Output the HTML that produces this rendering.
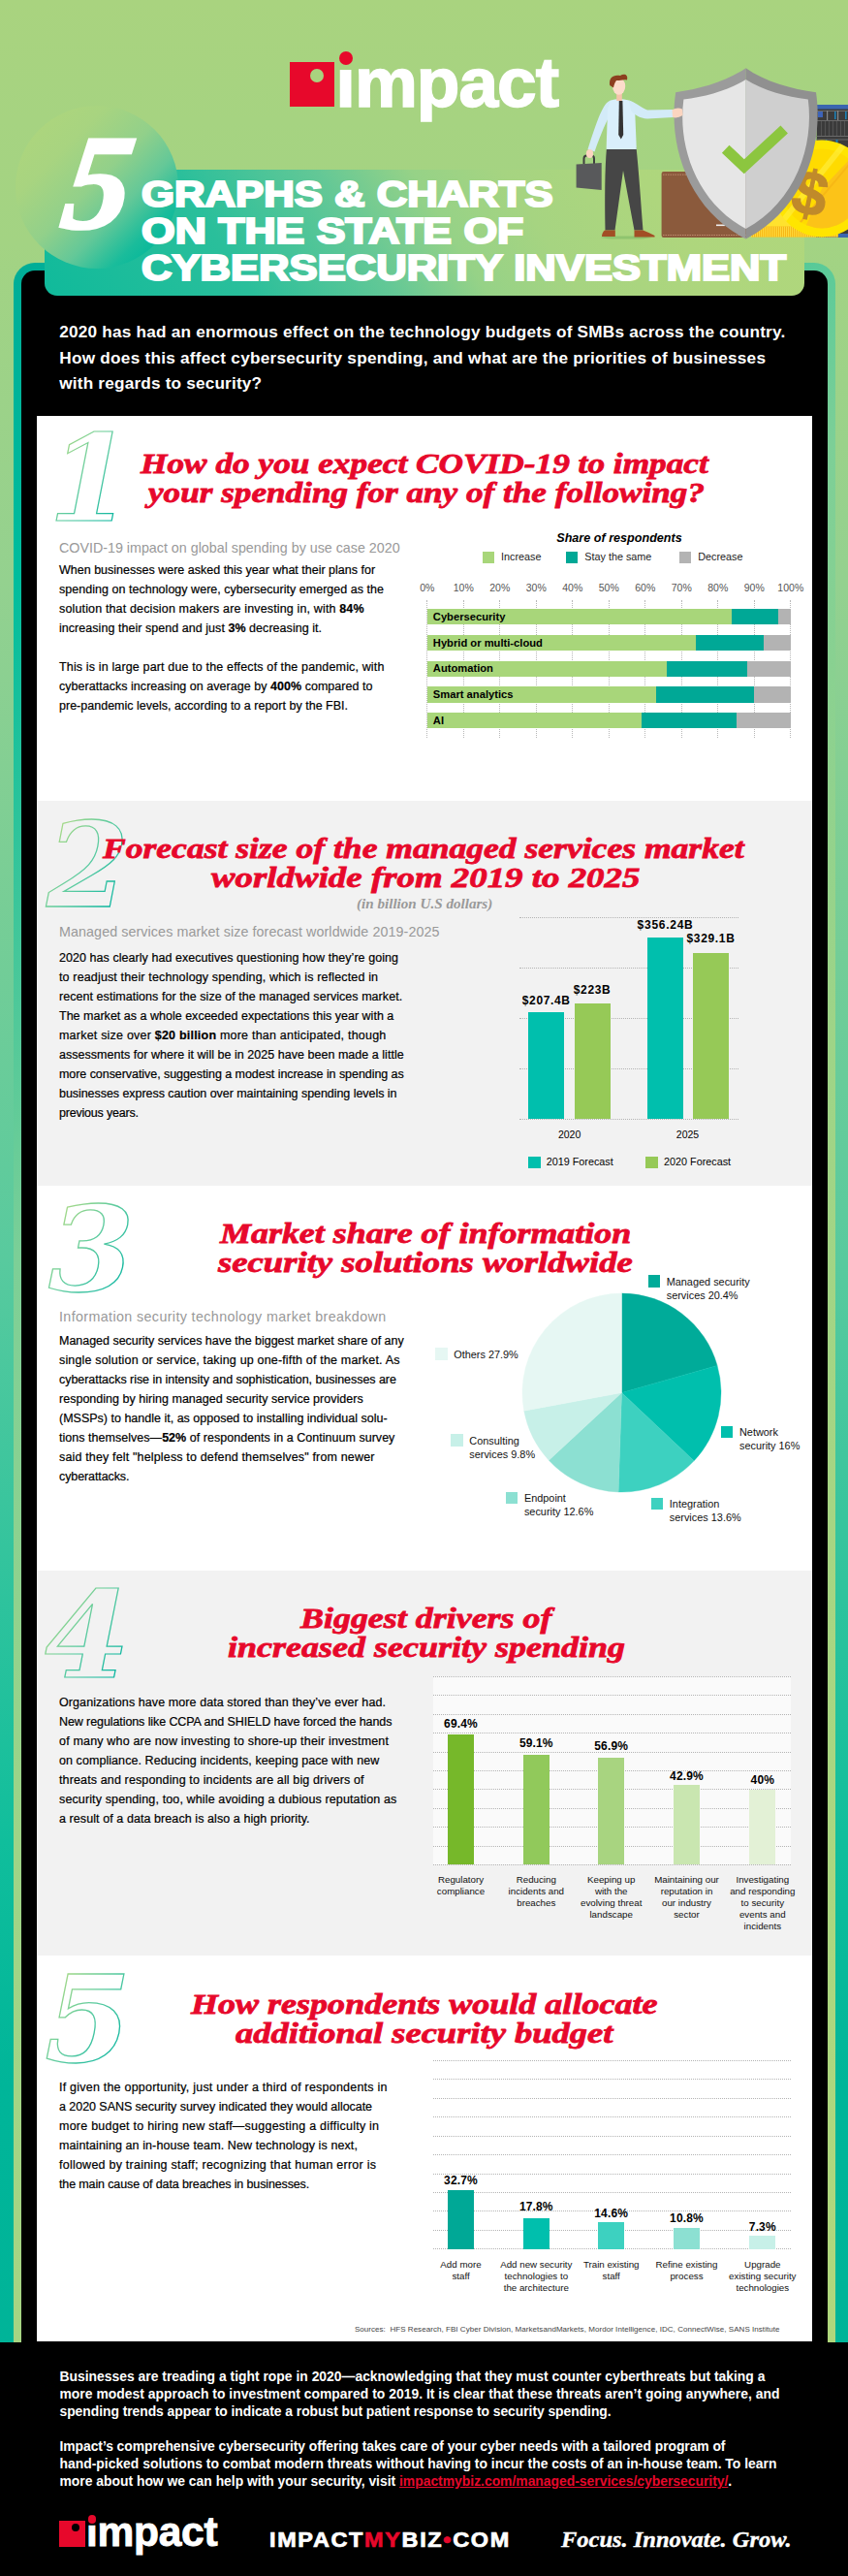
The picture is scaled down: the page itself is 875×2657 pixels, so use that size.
<!DOCTYPE html>
<html lang="en"><head><meta charset="utf-8"><title>5 Graphs &amp; Charts on the State of Cybersecurity Investment</title>
<style>
html,body{margin:0;padding:0}
body{width:875px;height:2657px;position:relative;overflow:hidden;font-family:"Liberation Sans",sans-serif;
background:linear-gradient(180deg,#a9d37f 0,#a3d383 250px,#94d18f 600px,#58ca9e 1300px,#10be9c 1900px,#00b599 2150px,#00b398 2657px);}
b{font-weight:bold}
</style></head><body>
<div style="position:absolute;left:14px;top:271px;width:848px;height:2145px;border-radius:22px 22px 0 0;background:linear-gradient(135deg,#00ad97 0%,#00bd9d 11%,#7ccf97 34.4%,#9ed487 54.5%,#a6d583 71.7%,#b0d77c 100%);"></div>
<div style="position:absolute;left:22px;top:279px;width:832px;height:2378px;border-radius:14px 14px 0 0;background:#000;"></div>
<div style="position:absolute;left:0px;top:2416px;width:875px;height:241px;background:#000;"></div>
<div style="position:absolute;left:38px;top:428.5px;width:800px;height:397.5px;background:#fff;"></div>
<div style="position:absolute;left:38px;top:826px;width:800px;height:397px;background:#f2f2f2;"></div>
<div style="position:absolute;left:38px;top:1223px;width:800px;height:397px;background:#fff;"></div>
<div style="position:absolute;left:38px;top:1620px;width:800px;height:397px;background:#f2f2f2;"></div>
<div style="position:absolute;left:38px;top:2017px;width:800px;height:397.5999999999999px;background:#fff;"></div>
<div style="position:absolute;left:46px;top:175px;width:784px;height:129.5px;border-radius:0 0 13px 13px;background:linear-gradient(58deg,#10ba9b 0%,#2abf9b 25%,#64c896 42%,#96d287 53%,#a6d481 64%,#aed67d 80%,#b0d77c 100%);"></div>
<div style="position:absolute;left:16px;top:109px;width:168px;height:168px;border-radius:50%;background:linear-gradient(135deg,#b0d67b 0%,#a8d480 28%,#92d08a 48%,#64c898 64%,#1abc9b 79%,#00b79a 90%,#00b398 100%);"></div>
<div style="position:absolute;left:298.7px;top:63.7px;width:46.3px;height:46.4px;background:#e7082b;"></div>
<div style="position:absolute;left:320.4px;top:70.6px;width:14px;height:14px;border-radius:50%;background:#a9d37f"></div>
<div style="position:absolute;left:349.9px;top:52.6px;width:14.2px;height:14.2px;border-radius:50%;background:#e7082b"></div>
<div style="position:absolute;top:40.51px;font-family:'Liberation Sans',sans-serif;font-size:73px;line-height:87.6px;color:#fff;white-space:nowrap;font-weight:bold;letter-spacing:-0.985px;left:346.6px;-webkit-text-stroke:1.6px #fff;"><span style="display:inline-block;clip-path:inset(36% -2px 0 -2px)">i</span>mpact</div>
<div style="position:absolute;top:104.99px;font-family:'Liberation Serif',serif;font-size:139px;line-height:166.8px;color:#fff;white-space:nowrap;font-weight:bold;font-style:italic;left:60.5px;-webkit-text-stroke:3px #fff;transform:skewX(-8deg) scaleX(1.0);transform-origin:0 126px;">5</div>
<div style="position:absolute;top:179.04px;font-family:'Liberation Sans',sans-serif;font-size:36.3px;line-height:43.56px;color:#fff;white-space:nowrap;font-weight:bold;left:145.8px;transform:scaleX(1.2034);transform-origin:left top;-webkit-text-stroke:2.1px #fff;">GRAPHS &amp; CHARTS</div>
<div style="position:absolute;top:217.24px;font-family:'Liberation Sans',sans-serif;font-size:36.3px;line-height:43.56px;color:#fff;white-space:nowrap;font-weight:bold;left:145.8px;transform:scaleX(1.2272);transform-origin:left top;-webkit-text-stroke:2.1px #fff;">ON THE STATE OF</div>
<div style="position:absolute;top:255.34px;font-family:'Liberation Sans',sans-serif;font-size:36.3px;line-height:43.56px;color:#fff;white-space:nowrap;font-weight:bold;left:145.8px;transform:scaleX(1.2007);transform-origin:left top;-webkit-text-stroke:2.1px #fff;">CYBERSECURITY INVESTMENT</div>
<div style="position:absolute;top:329.49px;font-family:'Liberation Sans',sans-serif;font-size:17.2px;line-height:26.3px;color:#fff;white-space:nowrap;font-weight:bold;left:61.3px;"><span style="letter-spacing:0.211px">2020 has had an enormous effect on the technology budgets of SMBs across the country.</span><br><span style="letter-spacing:0.246px">How does this affect cybersecurity spending, and what are the priorities of businesses</span><br><span style="letter-spacing:0.184px">with regards to security?</span></div>
<svg style="position:absolute;left:29.6px;top:427.29999999999995px;overflow:visible" width="140" height="130" viewBox="0 0 140 130"><defs><linearGradient id="ng1" gradientUnits="userSpaceOnUse" x1="15" y1="40" x2="105" y2="95"><stop offset="0" stop-color="#b5dc82"/><stop offset="0.5" stop-color="#5ccba0"/><stop offset="1" stop-color="#00b3a0"/></linearGradient></defs><text x="20" y="110" transform="translate(20 110) skewX(0) scale(1.0032 1) translate(-20 -110)" font-family="'DejaVu Serif',serif" font-style="italic" font-weight="bold" font-size="124.04" fill="none" stroke="url(#ng1)" stroke-width="1.25">1</text></svg>
<div style="position:absolute;top:460.48px;font-family:'Liberation Serif',serif;font-size:30px;line-height:36.0px;color:#e7082b;white-space:nowrap;font-weight:bold;font-style:italic;left:145.2px;transform:scaleX(1.1756);transform-origin:left top;-webkit-text-stroke:0.8px #e7082b;">How do you expect COVID-19 to impact</div>
<div style="position:absolute;top:490.17px;font-family:'Liberation Serif',serif;font-size:30px;line-height:36.0px;color:#e7082b;white-space:nowrap;font-weight:bold;font-style:italic;left:152.98px;transform:scaleX(1.1713);transform-origin:left top;-webkit-text-stroke:0.8px #e7082b;">your spending for any of the following?</div>
<div style="position:absolute;top:556.77px;font-family:'Liberation Sans',sans-serif;font-size:14.3px;line-height:17.16px;color:#999;white-space:nowrap;letter-spacing:-0.009px;left:61px;">COVID-19 impact on global spending by use case 2020</div>
<div style="position:absolute;top:578.37px;font-family:'Liberation Sans',sans-serif;font-size:12.5px;line-height:20.0px;color:#000;white-space:nowrap;left:61px;-webkit-text-stroke:0.2px #000;"><span style="letter-spacing:0.004px">When businesses were asked this year what their plans for</span><br><span style="letter-spacing:0.026px">spending on technology were, cybersecurity emerged as the</span><br><span style="letter-spacing:0.148px">solution that decision makers are investing in, with <b>84%</b></span><br><span style="letter-spacing:0.044px">increasing their spend and just <b>3%</b> decreasing it.</span><br><br><span style="letter-spacing:0.148px">This is in large part due to the effects of the pandemic, with</span><br><span style="letter-spacing:0.032px">cyberattacks increasing on average by <b>400%</b> compared to</span><br><span style="letter-spacing:0.013px">pre-pandemic levels, according to a report by the FBI.</span></div>
<div style="position:absolute;top:547.87px;font-family:'Liberation Sans',sans-serif;font-size:12.6px;line-height:15.12px;color:#000;white-space:nowrap;font-weight:bold;font-style:italic;left:489.0px;width:300px;text-align:center;">Share of respondents</div>
<div style="position:absolute;left:498.3px;top:568.7px;width:12px;height:12px;background:#a8d67a;"></div>
<div style="position:absolute;top:568.08px;font-family:'Liberation Sans',sans-serif;font-size:10.8px;line-height:12.96px;color:#222;white-space:nowrap;left:517.1px;">Increase</div>
<div style="position:absolute;left:583.5px;top:568.7px;width:12px;height:12px;background:#00a896;"></div>
<div style="position:absolute;top:568.08px;font-family:'Liberation Sans',sans-serif;font-size:10.8px;line-height:12.96px;color:#222;white-space:nowrap;left:603.3px;">Stay the same</div>
<div style="position:absolute;left:701.4px;top:568.7px;width:12px;height:12px;background:#b3b3b3;"></div>
<div style="position:absolute;top:568.08px;font-family:'Liberation Sans',sans-serif;font-size:10.8px;line-height:12.96px;color:#222;white-space:nowrap;left:720.2px;">Decrease</div>
<div style="position:absolute;left:440.3px;top:619px;width:0;height:142px;border-left:1px dotted #b8b8b8"></div>
<div style="position:absolute;top:600.26px;font-family:'Liberation Sans',sans-serif;font-size:10.5px;line-height:12.6px;color:#555;white-space:nowrap;left:410.8px;width:60px;text-align:center;">0%</div>
<div style="position:absolute;left:477.8px;top:619px;width:0;height:142px;border-left:1px dotted #b8b8b8"></div>
<div style="position:absolute;top:600.26px;font-family:'Liberation Sans',sans-serif;font-size:10.5px;line-height:12.6px;color:#555;white-space:nowrap;left:448.3px;width:60px;text-align:center;">10%</div>
<div style="position:absolute;left:515.3px;top:619px;width:0;height:142px;border-left:1px dotted #b8b8b8"></div>
<div style="position:absolute;top:600.26px;font-family:'Liberation Sans',sans-serif;font-size:10.5px;line-height:12.6px;color:#555;white-space:nowrap;left:485.79999999999995px;width:60px;text-align:center;">20%</div>
<div style="position:absolute;left:552.8px;top:619px;width:0;height:142px;border-left:1px dotted #b8b8b8"></div>
<div style="position:absolute;top:600.26px;font-family:'Liberation Sans',sans-serif;font-size:10.5px;line-height:12.6px;color:#555;white-space:nowrap;left:523.3px;width:60px;text-align:center;">30%</div>
<div style="position:absolute;left:590.3px;top:619px;width:0;height:142px;border-left:1px dotted #b8b8b8"></div>
<div style="position:absolute;top:600.26px;font-family:'Liberation Sans',sans-serif;font-size:10.5px;line-height:12.6px;color:#555;white-space:nowrap;left:560.8px;width:60px;text-align:center;">40%</div>
<div style="position:absolute;left:627.8px;top:619px;width:0;height:142px;border-left:1px dotted #b8b8b8"></div>
<div style="position:absolute;top:600.26px;font-family:'Liberation Sans',sans-serif;font-size:10.5px;line-height:12.6px;color:#555;white-space:nowrap;left:598.3px;width:60px;text-align:center;">50%</div>
<div style="position:absolute;left:665.3px;top:619px;width:0;height:142px;border-left:1px dotted #b8b8b8"></div>
<div style="position:absolute;top:600.26px;font-family:'Liberation Sans',sans-serif;font-size:10.5px;line-height:12.6px;color:#555;white-space:nowrap;left:635.8px;width:60px;text-align:center;">60%</div>
<div style="position:absolute;left:702.8px;top:619px;width:0;height:142px;border-left:1px dotted #b8b8b8"></div>
<div style="position:absolute;top:600.26px;font-family:'Liberation Sans',sans-serif;font-size:10.5px;line-height:12.6px;color:#555;white-space:nowrap;left:673.3px;width:60px;text-align:center;">70%</div>
<div style="position:absolute;left:740.3px;top:619px;width:0;height:142px;border-left:1px dotted #b8b8b8"></div>
<div style="position:absolute;top:600.26px;font-family:'Liberation Sans',sans-serif;font-size:10.5px;line-height:12.6px;color:#555;white-space:nowrap;left:710.8px;width:60px;text-align:center;">80%</div>
<div style="position:absolute;left:777.8px;top:619px;width:0;height:142px;border-left:1px dotted #b8b8b8"></div>
<div style="position:absolute;top:600.26px;font-family:'Liberation Sans',sans-serif;font-size:10.5px;line-height:12.6px;color:#555;white-space:nowrap;left:748.3px;width:60px;text-align:center;">90%</div>
<div style="position:absolute;left:815.3px;top:619px;width:0;height:142px;border-left:1px dotted #b8b8b8"></div>
<div style="position:absolute;top:600.26px;font-family:'Liberation Sans',sans-serif;font-size:10.5px;line-height:12.6px;color:#555;white-space:nowrap;left:785.8px;width:60px;text-align:center;">100%</div>
<div style="position:absolute;left:440.8px;top:628.2px;width:375.0px;height:16.3px;background:#b3b3b3;"></div>
<div style="position:absolute;left:440.8px;top:628.2px;width:362.625px;height:16.3px;background:#00a896;"></div>
<div style="position:absolute;left:440.8px;top:628.2px;width:313.875px;height:16.3px;background:#a8d67a;"></div>
<div style="position:absolute;top:630.00px;font-family:'Liberation Sans',sans-serif;font-size:11.2px;line-height:13.44px;color:#000;white-space:nowrap;font-weight:bold;left:446.8px;">Cybersecurity</div>
<div style="position:absolute;left:440.8px;top:654.9000000000001px;width:375.0px;height:16.3px;background:#b3b3b3;"></div>
<div style="position:absolute;left:440.8px;top:654.9000000000001px;width:347.625px;height:16.3px;background:#00a896;"></div>
<div style="position:absolute;left:440.8px;top:654.9000000000001px;width:277.5px;height:16.3px;background:#a8d67a;"></div>
<div style="position:absolute;top:656.70px;font-family:'Liberation Sans',sans-serif;font-size:11.2px;line-height:13.44px;color:#000;white-space:nowrap;font-weight:bold;left:446.8px;">Hybrid or multi-cloud</div>
<div style="position:absolute;left:440.8px;top:681.6px;width:375.0px;height:16.3px;background:#b3b3b3;"></div>
<div style="position:absolute;left:440.8px;top:681.6px;width:330.0px;height:16.3px;background:#00a896;"></div>
<div style="position:absolute;left:440.8px;top:681.6px;width:247.5px;height:16.3px;background:#a8d67a;"></div>
<div style="position:absolute;top:683.40px;font-family:'Liberation Sans',sans-serif;font-size:11.2px;line-height:13.44px;color:#000;white-space:nowrap;font-weight:bold;left:446.8px;">Automation</div>
<div style="position:absolute;left:440.8px;top:708.3000000000001px;width:375.0px;height:16.3px;background:#b3b3b3;"></div>
<div style="position:absolute;left:440.8px;top:708.3000000000001px;width:337.5px;height:16.3px;background:#00a896;"></div>
<div style="position:absolute;left:440.8px;top:708.3000000000001px;width:236.25px;height:16.3px;background:#a8d67a;"></div>
<div style="position:absolute;top:710.10px;font-family:'Liberation Sans',sans-serif;font-size:11.2px;line-height:13.44px;color:#000;white-space:nowrap;font-weight:bold;left:446.8px;">Smart analytics</div>
<div style="position:absolute;left:440.8px;top:735.0px;width:375.0px;height:16.3px;background:#b3b3b3;"></div>
<div style="position:absolute;left:440.8px;top:735.0px;width:318.75px;height:16.3px;background:#00a896;"></div>
<div style="position:absolute;left:440.8px;top:735.0px;width:221.25px;height:16.3px;background:#a8d67a;"></div>
<div style="position:absolute;top:736.80px;font-family:'Liberation Sans',sans-serif;font-size:11.2px;line-height:13.44px;color:#000;white-space:nowrap;font-weight:bold;left:446.8px;">AI</div>
<svg style="position:absolute;left:28.200000000000003px;top:825.2px;overflow:visible" width="140" height="130" viewBox="0 0 140 130"><defs><linearGradient id="ng2" gradientUnits="userSpaceOnUse" x1="15" y1="40" x2="105" y2="95"><stop offset="0" stop-color="#b5dc82"/><stop offset="0.5" stop-color="#5ccba0"/><stop offset="1" stop-color="#00b3a0"/></linearGradient></defs><text x="20" y="110" transform="translate(20 110) skewX(0) scale(1.002 1) translate(-20 -110)" font-family="'DejaVu Serif',serif" font-style="italic" font-weight="bold" font-size="121.94" fill="none" stroke="url(#ng2)" stroke-width="1.25">2</text></svg>
<div style="position:absolute;top:857.48px;font-family:'Liberation Serif',serif;font-size:30px;line-height:36.0px;color:#e7082b;white-space:nowrap;font-weight:bold;font-style:italic;left:106.4px;transform:scaleX(1.1851);transform-origin:left top;-webkit-text-stroke:0.8px #e7082b;">Forecast size of the managed services market</div>
<div style="position:absolute;top:887.38px;font-family:'Liberation Serif',serif;font-size:30px;line-height:36.0px;color:#e7082b;white-space:nowrap;font-weight:bold;font-style:italic;left:217.6px;transform:scaleX(1.2288);transform-origin:left top;-webkit-text-stroke:0.8px #e7082b;">worldwide from 2019 to 2025</div>
<div style="position:absolute;top:924.41px;font-family:'Liberation Serif',serif;font-size:14.5px;line-height:17.4px;color:#999;white-space:nowrap;font-weight:bold;font-style:italic;left:367.9px;transform:scaleX(1.0426);transform-origin:left top;">(in billion U.S dollars)</div>
<div style="position:absolute;top:952.77px;font-family:'Liberation Sans',sans-serif;font-size:14.3px;line-height:17.16px;color:#999;white-space:nowrap;letter-spacing:0.084px;left:61px;">Managed services market size forecast worldwide 2019-2025</div>
<div style="position:absolute;top:977.67px;font-family:'Liberation Sans',sans-serif;font-size:12.5px;line-height:20.0px;color:#000;white-space:nowrap;left:61px;-webkit-text-stroke:0.2px #000;"><span style="letter-spacing:0.053px">2020 has clearly had executives questioning how they’re going</span><br><span style="letter-spacing:0.148px">to readjust their technology spending, which is reflected in</span><br><span style="letter-spacing:0.053px">recent estimations for the size of the managed services market.</span><br><span style="letter-spacing:0.011px">The market as a whole exceeded expectations this year with a</span><br><span style="letter-spacing:0.212px">market size over <b>$20 billion</b> more than anticipated, though</span><br><span style="letter-spacing:0.032px">assessments for where it will be in 2025 have been made a little</span><br><span style="letter-spacing:-0.057px">more conservative, suggesting a modest increase in spending as</span><br><span style="letter-spacing:-0.052px">businesses express caution over maintaining spending levels in</span><br><span style="letter-spacing:-0.204px">previous years.</span></div>
<div style="position:absolute;left:536px;top:945.8px;width:226px;height:0;border-top:1px dotted #b4b4b4"></div>
<div style="position:absolute;left:536px;top:997.7px;width:226px;height:0;border-top:1px dotted #b4b4b4"></div>
<div style="position:absolute;left:536px;top:1049.6px;width:226px;height:0;border-top:1px dotted #b4b4b4"></div>
<div style="position:absolute;left:536px;top:1101.5px;width:226px;height:0;border-top:1px dotted #b4b4b4"></div>
<div style="position:absolute;left:536px;top:1153.9px;width:226px;height:0;border-top:1px dotted #b4b4b4"></div>
<div style="position:absolute;left:545px;top:1043.9px;width:37.3px;height:110.5px;background:#00bfad;"></div>
<div style="position:absolute;left:592.8px;top:1034.6px;width:37.3px;height:119.80000000000018px;background:#96c957;"></div>
<div style="position:absolute;left:667.5px;top:967.1px;width:37.3px;height:187.30000000000007px;background:#00bfad;"></div>
<div style="position:absolute;left:715.2px;top:982.7px;width:37.3px;height:171.70000000000005px;background:#96c957;"></div>
<div style="position:absolute;top:1025.24px;font-family:'Liberation Sans',sans-serif;font-size:12px;line-height:14.4px;color:#000;white-space:nowrap;font-weight:bold;letter-spacing:0.618px;left:538.8px;">$207.4B</div>
<div style="position:absolute;top:1014.34px;font-family:'Liberation Sans',sans-serif;font-size:12px;line-height:14.4px;color:#000;white-space:nowrap;font-weight:bold;letter-spacing:0.685px;left:591.7px;">$223B</div>
<div style="position:absolute;top:946.94px;font-family:'Liberation Sans',sans-serif;font-size:12px;line-height:14.4px;color:#000;white-space:nowrap;font-weight:bold;letter-spacing:0.732px;left:657.6px;">$356.24B</div>
<div style="position:absolute;top:960.94px;font-family:'Liberation Sans',sans-serif;font-size:12px;line-height:14.4px;color:#000;white-space:nowrap;font-weight:bold;letter-spacing:0.661px;left:708.5px;">$329.1B</div>
<div style="position:absolute;top:1164.26px;font-family:'Liberation Sans',sans-serif;font-size:10.5px;line-height:12.6px;color:#000;white-space:nowrap;left:547.6px;width:80px;text-align:center;">2020</div>
<div style="position:absolute;top:1164.26px;font-family:'Liberation Sans',sans-serif;font-size:10.5px;line-height:12.6px;color:#000;white-space:nowrap;left:669.5px;width:80px;text-align:center;">2025</div>
<div style="position:absolute;left:544.5px;top:1192.8px;width:13px;height:12.7px;background:#00bfad;"></div>
<div style="position:absolute;top:1192.48px;font-family:'Liberation Sans',sans-serif;font-size:10.8px;line-height:12.96px;color:#000;white-space:nowrap;left:563.7px;">2019 Forecast</div>
<div style="position:absolute;left:666.4px;top:1192.8px;width:13px;height:12.7px;background:#96c957;"></div>
<div style="position:absolute;top:1192.48px;font-family:'Liberation Sans',sans-serif;font-size:10.8px;line-height:12.96px;color:#000;white-space:nowrap;left:685.1px;">2020 Forecast</div>
<svg style="position:absolute;left:30.200000000000003px;top:1221.3px;overflow:visible" width="140" height="130" viewBox="0 0 140 130"><defs><linearGradient id="ng3" gradientUnits="userSpaceOnUse" x1="15" y1="40" x2="105" y2="95"><stop offset="0" stop-color="#b5dc82"/><stop offset="0.5" stop-color="#5ccba0"/><stop offset="1" stop-color="#00b3a0"/></linearGradient></defs><text x="20" y="110" transform="translate(20 110) skewX(0) scale(1.0559 1) translate(-20 -110)" font-family="'DejaVu Serif',serif" font-style="italic" font-weight="bold" font-size="120.9" fill="none" stroke="url(#ng3)" stroke-width="1.25">3</text></svg>
<div style="position:absolute;top:1254.38px;font-family:'Liberation Serif',serif;font-size:30px;line-height:36.0px;color:#e7082b;white-space:nowrap;font-weight:bold;font-style:italic;left:226.6px;transform:scaleX(1.1976);transform-origin:left top;-webkit-text-stroke:0.8px #e7082b;">Market share of information</div>
<div style="position:absolute;top:1284.17px;font-family:'Liberation Serif',serif;font-size:30px;line-height:36.0px;color:#e7082b;white-space:nowrap;font-weight:bold;font-style:italic;left:224.6px;transform:scaleX(1.2221);transform-origin:left top;-webkit-text-stroke:0.8px #e7082b;">security solutions worldwide</div>
<div style="position:absolute;top:1350.47px;font-family:'Liberation Sans',sans-serif;font-size:14.3px;line-height:17.16px;color:#999;white-space:nowrap;letter-spacing:0.376px;left:61px;">Information security technology market breakdown</div>
<div style="position:absolute;top:1372.67px;font-family:'Liberation Sans',sans-serif;font-size:12.5px;line-height:20.0px;color:#000;white-space:nowrap;left:61px;-webkit-text-stroke:0.2px #000;"><span style="letter-spacing:-0.023px">Managed security services have the biggest market share of any</span><br><span style="letter-spacing:0.171px">single solution or service, taking up one-fifth of the market. As</span><br><span style="letter-spacing:-0.046px">cyberattacks rise in intensity and sophistication, businesses are</span><br><span style="letter-spacing:0.019px">responding by hiring managed security service providers</span><br><span style="letter-spacing:0.003px">(MSSPs) to handle it, as opposed to installing individual solu-</span><br><span style="letter-spacing:0.031px">tions themselves—<b>52%</b> of respondents in a Continuum survey</span><br><span style="letter-spacing:0.156px">said they felt "helpless to defend themselves" from newer</span><br><span style="letter-spacing:-0.095px">cyberattacks.</span></div>
<svg style="position:absolute;left:537.2px;top:1331.9px" width="209.0" height="209.0" viewBox="537.2 1331.9 209.0 209.0"><path d="M641.7 1436.4L641.70 1333.90A102.5 102.5 0 0 1 740.28 1408.32Z" fill="#00ab99" stroke="#00ab99" stroke-width="0.4"/><path d="M641.7 1436.4L740.28 1408.32A102.5 102.5 0 0 1 716.30 1506.70Z" fill="#00bfad" stroke="#00bfad" stroke-width="0.4"/><path d="M641.7 1436.4L716.30 1506.70A102.5 102.5 0 0 1 638.30 1538.84Z" fill="#3dd1c0" stroke="#3dd1c0" stroke-width="0.4"/><path d="M641.7 1436.4L638.30 1538.84A102.5 102.5 0 0 1 566.49 1506.04Z" fill="#8ce0d2" stroke="#8ce0d2" stroke-width="0.4"/><path d="M641.7 1436.4L566.49 1506.04A102.5 102.5 0 0 1 540.92 1455.08Z" fill="#c7f0e8" stroke="#c7f0e8" stroke-width="0.4"/><path d="M641.7 1436.4L540.92 1455.08A102.5 102.5 0 0 1 641.70 1333.90Z" fill="#e6f7f3" stroke="#e6f7f3" stroke-width="0.4"/></svg>
<div style="position:absolute;left:668.5px;top:1315px;width:12.5px;height:12.5px;background:#00ab99;"></div>
<div style="position:absolute;top:1314.52px;font-family:'Liberation Sans',sans-serif;font-size:10.9px;line-height:14px;color:#111;white-space:nowrap;left:687.7px;">Managed security<br>services 20.4%</div>
<div style="position:absolute;left:743.8px;top:1470.6px;width:12.5px;height:12.5px;background:#00bfad;"></div>
<div style="position:absolute;top:1470.22px;font-family:'Liberation Sans',sans-serif;font-size:10.9px;line-height:14px;color:#111;white-space:nowrap;left:763px;">Network<br>security 16%</div>
<div style="position:absolute;left:671.6px;top:1544.9px;width:12.5px;height:12.5px;background:#3dd1c0;"></div>
<div style="position:absolute;top:1543.92px;font-family:'Liberation Sans',sans-serif;font-size:10.9px;line-height:14px;color:#111;white-space:nowrap;left:690.8px;">Integration<br>services 13.6%</div>
<div style="position:absolute;left:521.7px;top:1538.6px;width:12.5px;height:12.5px;background:#8ce0d2;"></div>
<div style="position:absolute;top:1537.72px;font-family:'Liberation Sans',sans-serif;font-size:10.9px;line-height:14px;color:#111;white-space:nowrap;left:540.9px;">Endpoint<br>security 12.6%</div>
<div style="position:absolute;left:465.1px;top:1479px;width:12.5px;height:12.5px;background:#c7f0e8;"></div>
<div style="position:absolute;top:1478.52px;font-family:'Liberation Sans',sans-serif;font-size:10.9px;line-height:14px;color:#111;white-space:nowrap;left:484.3px;">Consulting<br>services 9.8%</div>
<div style="position:absolute;left:449px;top:1390.2px;width:12.5px;height:12.5px;background:#e6f7f3;"></div>
<div style="position:absolute;top:1389.82px;font-family:'Liberation Sans',sans-serif;font-size:10.9px;line-height:14px;color:#111;white-space:nowrap;left:468.2px;">Others 27.9%</div>
<svg style="position:absolute;left:26.200000000000003px;top:1619.6px;overflow:visible" width="140" height="130" viewBox="0 0 140 130"><defs><linearGradient id="ng4" gradientUnits="userSpaceOnUse" x1="15" y1="40" x2="105" y2="95"><stop offset="0" stop-color="#b5dc82"/><stop offset="0.5" stop-color="#5ccba0"/><stop offset="1" stop-color="#00b3a0"/></linearGradient></defs><text x="20" y="110" transform="translate(20 110) skewX(0) scale(1.0289 1) translate(-20 -110)" font-family="'DejaVu Serif',serif" font-style="italic" font-weight="bold" font-size="122.99" fill="none" stroke="url(#ng4)" stroke-width="1.25">4</text></svg>
<div style="position:absolute;top:1651.17px;font-family:'Liberation Serif',serif;font-size:30px;line-height:36.0px;color:#e7082b;white-space:nowrap;font-weight:bold;font-style:italic;left:309.98px;transform:scaleX(1.1976);transform-origin:left top;-webkit-text-stroke:0.8px #e7082b;">Biggest drivers of</div>
<div style="position:absolute;top:1681.08px;font-family:'Liberation Serif',serif;font-size:30px;line-height:36.0px;color:#e7082b;white-space:nowrap;font-weight:bold;font-style:italic;left:234.6px;transform:scaleX(1.2000);transform-origin:left top;-webkit-text-stroke:0.8px #e7082b;">increased security spending</div>
<div style="position:absolute;top:1745.97px;font-family:'Liberation Sans',sans-serif;font-size:12.5px;line-height:20.0px;color:#000;white-space:nowrap;left:61px;-webkit-text-stroke:0.2px #000;"><span style="letter-spacing:0.084px">Organizations have more data stored than they’ve ever had.</span><br><span style="letter-spacing:-0.091px">New regulations like CCPA and SHIELD have forced the hands</span><br><span style="letter-spacing:0.174px">of many who are now investing to shore-up their investment</span><br><span style="letter-spacing:0.066px">on compliance. Reducing incidents, keeping pace with new</span><br><span style="letter-spacing:0.131px">threats and responding to incidents are all big drivers of</span><br><span style="letter-spacing:0.127px">security spending, too, while avoiding a dubious reputation as</span><br><span style="letter-spacing:0.078px">a result of a data breach is also a high priority.</span></div>
<div style="position:absolute;left:447px;top:1729.4px;width:369.4px;height:194.0px;background:#fafafa;"></div>
<div style="position:absolute;left:447px;top:1728.9px;width:369.4px;height:0;border-top:1px dotted #b4b4b4"></div>
<div style="position:absolute;left:447px;top:1748.3px;width:369.4px;height:0;border-top:1px dotted #b4b4b4"></div>
<div style="position:absolute;left:447px;top:1767.7px;width:369.4px;height:0;border-top:1px dotted #b4b4b4"></div>
<div style="position:absolute;left:447px;top:1787.1px;width:369.4px;height:0;border-top:1px dotted #b4b4b4"></div>
<div style="position:absolute;left:447px;top:1806.5px;width:369.4px;height:0;border-top:1px dotted #b4b4b4"></div>
<div style="position:absolute;left:447px;top:1825.9px;width:369.4px;height:0;border-top:1px dotted #b4b4b4"></div>
<div style="position:absolute;left:447px;top:1845.3px;width:369.4px;height:0;border-top:1px dotted #b4b4b4"></div>
<div style="position:absolute;left:447px;top:1864.7px;width:369.4px;height:0;border-top:1px dotted #b4b4b4"></div>
<div style="position:absolute;left:447px;top:1884.1px;width:369.4px;height:0;border-top:1px dotted #b4b4b4"></div>
<div style="position:absolute;left:447px;top:1903.5px;width:369.4px;height:0;border-top:1px dotted #b4b4b4"></div>
<div style="position:absolute;left:447px;top:1922.9px;width:369.4px;height:0;border-top:1px dotted #b4b4b4"></div>
<div style="position:absolute;left:462.0px;top:1789px;width:27px;height:134.4000000000001px;background:#76b82a;"></div>
<div style="position:absolute;top:1770.54px;font-family:'Liberation Sans',sans-serif;font-size:12px;line-height:14.4px;color:#000;white-space:nowrap;font-weight:bold;letter-spacing:0.150px;left:435.5px;width:80px;text-align:center;">69.4%</div>
<div style="position:absolute;top:1932.62px;font-family:'Liberation Sans',sans-serif;font-size:9.75px;line-height:12px;color:#111;white-space:nowrap;left:430.5px;width:90px;text-align:center;">Regulatory<br>compliance</div>
<div style="position:absolute;left:539.8px;top:1809.8px;width:27px;height:113.60000000000014px;background:#91c95b;"></div>
<div style="position:absolute;top:1791.34px;font-family:'Liberation Sans',sans-serif;font-size:12px;line-height:14.4px;color:#000;white-space:nowrap;font-weight:bold;letter-spacing:0.150px;left:513.3px;width:80px;text-align:center;">59.1%</div>
<div style="position:absolute;top:1932.62px;font-family:'Liberation Sans',sans-serif;font-size:9.75px;line-height:12px;color:#111;white-space:nowrap;left:508.29999999999995px;width:90px;text-align:center;">Reducing<br>incidents and<br>breaches</div>
<div style="position:absolute;left:617.2px;top:1813.4px;width:27px;height:110.0px;background:#a8d480;"></div>
<div style="position:absolute;top:1794.44px;font-family:'Liberation Sans',sans-serif;font-size:12px;line-height:14.4px;color:#000;white-space:nowrap;font-weight:bold;letter-spacing:0.150px;left:590.7px;width:80px;text-align:center;">56.9%</div>
<div style="position:absolute;top:1932.62px;font-family:'Liberation Sans',sans-serif;font-size:9.75px;line-height:12px;color:#111;white-space:nowrap;left:585.7px;width:90px;text-align:center;">Keeping up<br>with the<br>evolving threat<br>landscape</div>
<div style="position:absolute;left:695.0px;top:1840.9px;width:27px;height:82.5px;background:#c9e6b0;"></div>
<div style="position:absolute;top:1825.04px;font-family:'Liberation Sans',sans-serif;font-size:12px;line-height:14.4px;color:#000;white-space:nowrap;font-weight:bold;letter-spacing:0.150px;left:668.5px;width:80px;text-align:center;">42.9%</div>
<div style="position:absolute;top:1932.62px;font-family:'Liberation Sans',sans-serif;font-size:9.75px;line-height:12px;color:#111;white-space:nowrap;left:663.5px;width:90px;text-align:center;">Maintaining our<br>reputation in<br>our industry<br>sector</div>
<div style="position:absolute;left:773.3px;top:1846.1px;width:27px;height:77.30000000000018px;background:#e3f1d6;"></div>
<div style="position:absolute;top:1828.74px;font-family:'Liberation Sans',sans-serif;font-size:12px;line-height:14.4px;color:#000;white-space:nowrap;font-weight:bold;letter-spacing:0.150px;left:746.8px;width:80px;text-align:center;">40%</div>
<div style="position:absolute;top:1932.62px;font-family:'Liberation Sans',sans-serif;font-size:9.75px;line-height:12px;color:#111;white-space:nowrap;left:741.8px;width:90px;text-align:center;">Investigating<br>and responding<br>to security<br>events and<br>incidents</div>
<svg style="position:absolute;left:25.799999999999997px;top:2016.0px;overflow:visible" width="140" height="130" viewBox="0 0 140 130"><defs><linearGradient id="ng5" gradientUnits="userSpaceOnUse" x1="15" y1="40" x2="105" y2="95"><stop offset="0" stop-color="#b5dc82"/><stop offset="0.5" stop-color="#5ccba0"/><stop offset="1" stop-color="#00b3a0"/></linearGradient></defs><text x="20" y="110" transform="translate(20 110) skewX(0) scale(1.0484 1) translate(-20 -110)" font-family="'DejaVu Serif',serif" font-style="italic" font-weight="bold" font-size="122.78" fill="none" stroke="url(#ng5)" stroke-width="1.25">5</text></svg>
<div style="position:absolute;top:2048.97px;font-family:'Liberation Serif',serif;font-size:30px;line-height:36.0px;color:#e7082b;white-space:nowrap;font-weight:bold;font-style:italic;left:197.4px;transform:scaleX(1.2009);transform-origin:left top;-webkit-text-stroke:0.8px #e7082b;">How respondents would allocate</div>
<div style="position:absolute;top:2078.78px;font-family:'Liberation Serif',serif;font-size:30px;line-height:36.0px;color:#e7082b;white-space:nowrap;font-weight:bold;font-style:italic;left:243.2px;transform:scaleX(1.2168);transform-origin:left top;-webkit-text-stroke:0.8px #e7082b;">additional security budget</div>
<div style="position:absolute;top:2142.87px;font-family:'Liberation Sans',sans-serif;font-size:12.5px;line-height:20.0px;color:#000;white-space:nowrap;left:61px;-webkit-text-stroke:0.2px #000;"><span style="letter-spacing:0.220px">If given the opportunity, just under a third of respondents in</span><br><span style="letter-spacing:-0.050px">a 2020 SANS security survey indicated they would allocate</span><br><span style="letter-spacing:0.240px">more budget to hiring new staff—suggesting a difficulty in</span><br><span style="letter-spacing:0.095px">maintaining an in-house team. New technology is next,</span><br><span style="letter-spacing:0.238px">followed by training staff; recognizing that human error is</span><br><span style="letter-spacing:-0.130px">the main cause of data breaches in businesses.</span></div>
<div style="position:absolute;left:447px;top:2124.7px;width:369.4px;height:0;border-top:1px dotted #b4b4b4"></div>
<div style="position:absolute;left:447px;top:2144.2px;width:369.4px;height:0;border-top:1px dotted #b4b4b4"></div>
<div style="position:absolute;left:447px;top:2163.6px;width:369.4px;height:0;border-top:1px dotted #b4b4b4"></div>
<div style="position:absolute;left:447px;top:2183.1px;width:369.4px;height:0;border-top:1px dotted #b4b4b4"></div>
<div style="position:absolute;left:447px;top:2202.5px;width:369.4px;height:0;border-top:1px dotted #b4b4b4"></div>
<div style="position:absolute;left:447px;top:2222.0px;width:369.4px;height:0;border-top:1px dotted #b4b4b4"></div>
<div style="position:absolute;left:447px;top:2241.5px;width:369.4px;height:0;border-top:1px dotted #b4b4b4"></div>
<div style="position:absolute;left:447px;top:2260.9px;width:369.4px;height:0;border-top:1px dotted #b4b4b4"></div>
<div style="position:absolute;left:447px;top:2280.4px;width:369.4px;height:0;border-top:1px dotted #b4b4b4"></div>
<div style="position:absolute;left:447px;top:2299.8px;width:369.4px;height:0;border-top:1px dotted #b4b4b4"></div>
<div style="position:absolute;left:447px;top:2319.3px;width:369.4px;height:0;border-top:1px dotted #b4b4b4"></div>
<div style="position:absolute;left:462.0px;top:2258.6px;width:27px;height:61.20000000000027px;background:#00a896;"></div>
<div style="position:absolute;top:2241.64px;font-family:'Liberation Sans',sans-serif;font-size:12px;line-height:14.4px;color:#000;white-space:nowrap;font-weight:bold;letter-spacing:0.150px;left:435.5px;width:80px;text-align:center;">32.7%</div>
<div style="position:absolute;top:2329.62px;font-family:'Liberation Sans',sans-serif;font-size:9.75px;line-height:12px;color:#111;white-space:nowrap;left:430.5px;width:90px;text-align:center;">Add more<br>staff</div>
<div style="position:absolute;left:539.8px;top:2287.6px;width:27px;height:32.20000000000027px;background:#00bfad;"></div>
<div style="position:absolute;top:2268.64px;font-family:'Liberation Sans',sans-serif;font-size:12px;line-height:14.4px;color:#000;white-space:nowrap;font-weight:bold;letter-spacing:0.150px;left:513.3px;width:80px;text-align:center;">17.8%</div>
<div style="position:absolute;top:2329.62px;font-family:'Liberation Sans',sans-serif;font-size:9.75px;line-height:12px;color:#111;white-space:nowrap;left:508.29999999999995px;width:90px;text-align:center;">Add new security<br>technologies to<br>the architecture</div>
<div style="position:absolute;left:617.2px;top:2292.3px;width:27px;height:27.5px;background:#3dd1c0;"></div>
<div style="position:absolute;top:2276.44px;font-family:'Liberation Sans',sans-serif;font-size:12px;line-height:14.4px;color:#000;white-space:nowrap;font-weight:bold;letter-spacing:0.150px;left:590.7px;width:80px;text-align:center;">14.6%</div>
<div style="position:absolute;top:2329.62px;font-family:'Liberation Sans',sans-serif;font-size:9.75px;line-height:12px;color:#111;white-space:nowrap;left:585.7px;width:90px;text-align:center;">Train existing<br>staff</div>
<div style="position:absolute;left:695.0px;top:2298px;width:27px;height:21.800000000000182px;background:#8ce0d2;"></div>
<div style="position:absolute;top:2281.14px;font-family:'Liberation Sans',sans-serif;font-size:12px;line-height:14.4px;color:#000;white-space:nowrap;font-weight:bold;letter-spacing:0.150px;left:668.5px;width:80px;text-align:center;">10.8%</div>
<div style="position:absolute;top:2329.62px;font-family:'Liberation Sans',sans-serif;font-size:9.75px;line-height:12px;color:#111;white-space:nowrap;left:663.5px;width:90px;text-align:center;">Refine existing<br>process</div>
<div style="position:absolute;left:773.3px;top:2305.8px;width:27px;height:14.0px;background:#c7f0e8;"></div>
<div style="position:absolute;top:2289.94px;font-family:'Liberation Sans',sans-serif;font-size:12px;line-height:14.4px;color:#000;white-space:nowrap;font-weight:bold;letter-spacing:0.150px;left:746.8px;width:80px;text-align:center;">7.3%</div>
<div style="position:absolute;top:2329.62px;font-family:'Liberation Sans',sans-serif;font-size:9.75px;line-height:12px;color:#111;white-space:nowrap;left:741.8px;width:90px;text-align:center;">Upgrade<br>existing security<br>technologies</div>
<div style="position:absolute;top:2397.83px;font-family:'Liberation Sans',sans-serif;font-size:8px;line-height:9.6px;color:#444;white-space:nowrap;letter-spacing:0.048px;left:365.9px;">Sources:&nbsp; HFS Research, FBI Cyber Division, MarketsandMarkets, Mordor Intelligence, IDC, ConnectWise, SANS Institute</div>
<div style="position:absolute;top:2442.07px;font-family:'Liberation Sans',sans-serif;font-size:13.9px;line-height:18.03px;color:#fff;white-space:nowrap;font-weight:bold;left:61.5px;"><span style="letter-spacing:0.000px">Businesses are treading a tight rope in 2020—acknowledging that they must counter cyberthreats but taking a</span><br><span style="letter-spacing:0.018px">more modest approach to investment compared to 2019. It is clear that these threats aren’t going anywhere, and</span><br><span style="letter-spacing:-0.051px">spending trends appear to indicate a robust but patient response to security spending.</span><br><br><span style="letter-spacing:-0.064px">Impact’s comprehensive cybersecurity offering takes care of your cyber needs with a tailored program of</span><br><span style="letter-spacing:0.000px">hand-picked solutions to combat modern threats without having to incur the costs of an in-house team. To learn</span><br><span style="letter-spacing:-0.008px">more about how we can help with your security, visit <span style="color:#e7082b;text-decoration:underline">impactmybiz.com/managed-services/cybersecurity/</span>.</span></div>
<div style="position:absolute;left:61.2px;top:2599.8px;width:27px;height:27px;background:#e7082b;"></div>
<div style="position:absolute;left:73.80000000000001px;top:2603.3px;width:8.2px;height:8.2px;border-radius:50%;background:#000"></div>
<div style="position:absolute;left:90.7px;top:2594.3px;width:8.4px;height:8.4px;border-radius:50%;background:#e7082b"></div>
<div style="position:absolute;top:2586.27px;font-family:'Liberation Sans',sans-serif;font-size:42.5px;line-height:51.0px;color:#fff;white-space:nowrap;font-weight:bold;letter-spacing:-0.267px;left:88.9px;-webkit-text-stroke:0.9px #fff;"><span style="display:inline-block;clip-path:inset(36% -2px 0 -2px)">i</span>mpact</div>
<div style="position:absolute;top:2608.25px;font-family:'Liberation Sans',sans-serif;font-size:21.5px;line-height:25.8px;color:#fff;white-space:nowrap;font-weight:bold;letter-spacing:1.500px;left:278.2px;transform:scaleX(1.0920);transform-origin:left top;-webkit-text-stroke:0.7px;">IMPACT<span style="color:#e7082b">MY</span>BIZ<span style="color:#e7082b">•</span>COM</div>
<div style="position:absolute;top:2605.47px;font-family:'Liberation Serif',serif;font-size:23.5px;line-height:28.2px;color:#fff;white-space:nowrap;font-weight:bold;font-style:italic;left:578.7px;transform:scaleX(1.0412);transform-origin:left top;-webkit-text-stroke:0.4px #fff;">Focus. Innovate. Grow.</div>
<svg style="position:absolute;left:580px;top:50px" width="295" height="200" viewBox="580 50 295 200">
<rect x="842.7" y="108" width="33" height="137" fill="#3b3b3b"/><rect x="842.7" y="108" width="33" height="4.5" fill="#3a66b0"/><rect x="842.7" y="241" width="33" height="4" fill="#3a66b0"/><rect x="844" y="115" width="5" height="6" fill="#3d63b8"/><rect x="842.7" y="114" width="33" height="1" fill="#6a6a6a"/><rect x="842.7" y="124" width="33" height="1" fill="#6a6a6a"/><rect x="842.7" y="140" width="33" height="1" fill="#6a6a6a"/><rect x="842.7" y="143.5" width="33" height="1" fill="#6a6a6a"/><rect x="842.7" y="156" width="33" height="1" fill="#6a6a6a"/><rect x="842.7" y="170" width="33" height="1" fill="#6a6a6a"/><rect x="842.7" y="184" width="33" height="1" fill="#6a6a6a"/><rect x="842.7" y="198" width="33" height="1" fill="#6a6a6a"/><rect x="842.7" y="212" width="33" height="1" fill="#6a6a6a"/><rect x="842.7" y="226" width="33" height="1" fill="#6a6a6a"/><rect x="853" y="114" width="1.2" height="10" fill="#8a8a8a"/><rect x="861" y="115" width="1.6" height="8" fill="#1c7fb5"/><rect x="864" y="114" width="1.2" height="10" fill="#8a8a8a"/><rect x="872" y="115" width="1.6" height="8" fill="#1c7fb5"/><rect x="847" y="125" width="0.8" height="15" fill="#5a5a5a"/><rect x="851" y="125" width="0.8" height="15" fill="#5a5a5a"/><rect x="855" y="125" width="0.8" height="15" fill="#5a5a5a"/><rect x="859" y="125" width="0.8" height="15" fill="#5a5a5a"/><rect x="863" y="125" width="0.8" height="15" fill="#5a5a5a"/><rect x="867" y="125" width="0.8" height="15" fill="#5a5a5a"/><rect x="871" y="125" width="0.8" height="15" fill="#5a5a5a"/><rect x="862.5" y="144" width="2" height="9" fill="#1c7fb5"/><rect x="852" y="144" width="1.2" height="5" fill="#1c7fb5"/><ellipse cx="812" cy="229" rx="42" ry="11" fill="#ffe22e"/><rect x="775" y="233.5" width="90" height="11" fill="#f7b816"/><rect x="775" y="233.5" width="1" height="11" fill="#ffd83a"/><rect x="777" y="233.5" width="1" height="11" fill="#ffd83a"/><rect x="779" y="233.5" width="1" height="11" fill="#ffd83a"/><rect x="781" y="233.5" width="1" height="11" fill="#ffd83a"/><rect x="783" y="233.5" width="1" height="11" fill="#ffd83a"/><rect x="785" y="233.5" width="1" height="11" fill="#ffd83a"/><rect x="787" y="233.5" width="1" height="11" fill="#ffd83a"/><rect x="789" y="233.5" width="1" height="11" fill="#ffd83a"/><rect x="791" y="233.5" width="1" height="11" fill="#ffd83a"/><rect x="793" y="233.5" width="1" height="11" fill="#ffd83a"/><rect x="795" y="233.5" width="1" height="11" fill="#ffd83a"/><rect x="797" y="233.5" width="1" height="11" fill="#ffd83a"/><rect x="799" y="233.5" width="1" height="11" fill="#ffd83a"/><rect x="801" y="233.5" width="1" height="11" fill="#ffd83a"/><rect x="803" y="233.5" width="1" height="11" fill="#ffd83a"/><rect x="805" y="233.5" width="1" height="11" fill="#ffd83a"/><rect x="807" y="233.5" width="1" height="11" fill="#ffd83a"/><rect x="809" y="233.5" width="1" height="11" fill="#ffd83a"/><rect x="811" y="233.5" width="1" height="11" fill="#ffd83a"/><rect x="813" y="233.5" width="1" height="11" fill="#ffd83a"/><rect x="815" y="233.5" width="1" height="11" fill="#ffd83a"/><rect x="817" y="233.5" width="1" height="11" fill="#ffd83a"/><rect x="819" y="233.5" width="1" height="11" fill="#ffd83a"/><rect x="821" y="233.5" width="1" height="11" fill="#ffd83a"/><rect x="823" y="233.5" width="1" height="11" fill="#ffd83a"/><rect x="825" y="233.5" width="1" height="11" fill="#ffd83a"/><rect x="827" y="233.5" width="1" height="11" fill="#ffd83a"/><rect x="829" y="233.5" width="1" height="11" fill="#ffd83a"/><rect x="831" y="233.5" width="1" height="11" fill="#ffd83a"/><rect x="833" y="233.5" width="1" height="11" fill="#ffd83a"/><rect x="835" y="233.5" width="1" height="11" fill="#ffd83a"/><rect x="837" y="233.5" width="1" height="11" fill="#ffd83a"/><rect x="839" y="233.5" width="1" height="11" fill="#ffd83a"/><rect x="841" y="233.5" width="1" height="11" fill="#ffd83a"/><rect x="843" y="233.5" width="1" height="11" fill="#ffd83a"/><rect x="845" y="233.5" width="1" height="11" fill="#ffd83a"/><rect x="847" y="233.5" width="1" height="11" fill="#ffd83a"/><rect x="849" y="233.5" width="1" height="11" fill="#ffd83a"/><rect x="851" y="233.5" width="1" height="11" fill="#ffd83a"/><rect x="853" y="233.5" width="1" height="11" fill="#ffd83a"/><rect x="855" y="233.5" width="1" height="11" fill="#ffd83a"/><rect x="857" y="233.5" width="1" height="11" fill="#ffd83a"/><rect x="859" y="233.5" width="1" height="11" fill="#ffd83a"/><rect x="861" y="233.5" width="1" height="11" fill="#ffd83a"/><rect x="863" y="233.5" width="1" height="11" fill="#ffd83a"/><circle cx="848" cy="194.4" r="50" fill="#ffe500"/><circle cx="848" cy="194.4" r="41" fill="#ffdb00"/><clipPath id="coinc"><circle cx="848" cy="194.4" r="41"/></clipPath><g clip-path="url(#coinc)"><path d="M848 194.4 L900 140 L900 260 L820 260 Z" fill="#fcc419"/><path d="M800 260 L880 165" stroke="#f7b816" stroke-width="2"/></g><clipPath id="coino"><circle cx="848" cy="194.4" r="50"/></clipPath><g clip-path="url(#coino)"><path d="M790 250 L870 150" stroke="#fff04a" stroke-width="6" opacity=".55"/></g><text x="836" y="221.5" transform="rotate(12 836 199)" text-anchor="middle" font-family="'Liberation Sans',sans-serif" font-weight="bold" font-size="64" fill="#c08a2a" stroke="#c08a2a" stroke-width="1.2">$</text><rect x="682.6" y="177" width="90" height="68" rx="2" fill="#8b5a3c"/><path d="M684 180.2 H772" stroke="#c9977a" stroke-width="0.8" stroke-dasharray="1.5 1"/><path d="M684 242.5 H772" stroke="#c9977a" stroke-width="0.8" stroke-dasharray="1.5 1"/><rect x="739" y="231.5" width="9" height="1.6" fill="#eee"/><path d="M769.6 70.2 C750 84 722 92 697.2 95.2 C689 150 710 216 769.6 246.5 Z" fill="#9b9b9b"/><path d="M769.6 70.2 C789.2 84 817.2 92 842 95.2 C850.2 150 829.2 216 769.6 246.5 Z" fill="#909090"/><path d="M769.6 82 C752 93 728 100 705.4 102.4 C699 150 718 208 769.6 236 Z" fill="#e6e6e6"/><path d="M769.6 82 C787.2 93 811.2 100 833.8 102.4 C840.2 150 821.2 208 769.6 236 Z" fill="#cfcfcf"/><path d="M748.7 153.7 L767.8 171.8 L809.2 133.5" fill="none" stroke="#8cc63f" stroke-width="11" stroke-linejoin="miter"/><ellipse cx="646" cy="245" rx="26" ry="1.6" fill="#8fc46f"/><path d="M602.5 169 V163.5 Q602.5 160.5 605.5 160.5 H610 Q613 160.5 613 163.5 V169" fill="none" stroke="#3f3f3f" stroke-width="2"/><path d="M594.6 169.5 L620.7 168 L620.7 196 L594.6 193.5 Z" fill="#58595b"/><path d="M630 103.5 C622 106 616 125 606.5 154 L613.5 156.5 C620 138 626 124 631 116 Z" fill="#d3ebf8"/><ellipse cx="608.5" cy="158.5" rx="3.6" ry="4.5" fill="#fbd5c0"/><path d="M626 152 L656.5 152 C659 175 661 205 663.5 237.5 L654.5 237.5 L643 176 L634.5 237.5 L624.5 237.5 C624 205 624 175 626 152 Z" fill="#464646"/><path d="M624 237.5 H634.8 V244 H621 Q621 240 624 237.5 Z" fill="#a24e25"/><path d="M654.5 237.5 H663.5 Q670 240 675.5 243 V244.4 H654.5 Z" fill="#a24e25"/><path d="M630 103.5 Q639 100.5 649 103.5 L655 110 L656.8 154 L625.6 154 L627 112 Z" fill="#d9effb"/><path d="M649 103.5 C655 105 660 110 668 113.5 L694 113 L694.5 121 L668 122.5 C660 122 654 118 651 114 Z" fill="#d3ebf8"/><path d="M693.5 113.2 Q699 110 704 112.5 L704.5 119 Q699 122.5 694 121 Z" fill="#fbd5c0"/><rect x="636.2" y="95" width="5.6" height="9" fill="#f5c4ab"/><ellipse cx="638.6" cy="89" rx="6.6" ry="8.8" fill="#fcdccb"/><path d="M629.2 88 C628 80 633 76.5 640 78 C644 75.5 648.5 77 647 82.5 C643 81.5 639 83.5 636 83 C634 85.5 633.5 88.5 633 90.5 Z" fill="#8c3f1f"/><path d="M638.8 104 L642.4 104 L643.2 139 L640.8 143.5 L638.2 139 Z" fill="#333"/></svg>
</body></html>
